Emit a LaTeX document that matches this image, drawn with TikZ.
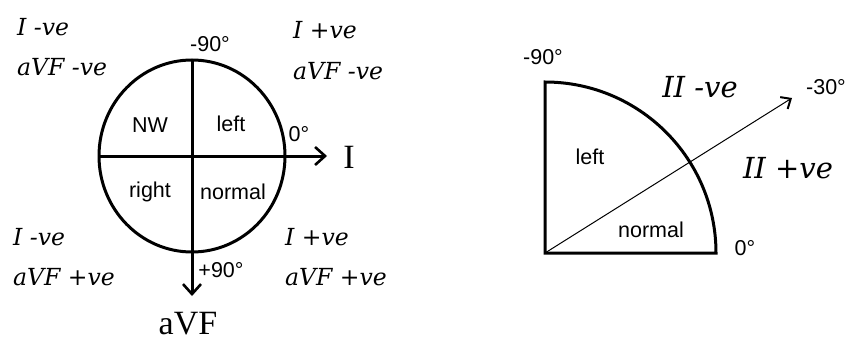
\documentclass[tikz,border=0pt]{standalone}
\usepackage{fontspec}
\setmainfont{Liberation Serif}
\setsansfont{Liberation Sans}
\newfontfamily\slabit{DejaVu Serif}
\usetikzlibrary{arrows.meta}
\begin{document}
\begin{tikzpicture}[x=1pt,y=-1pt,
  thick line/.style={line width=3pt},
  sans/.style={font=\sffamily\fontsize{21.5}{21.5}\selectfont, inner sep=0pt},
  ital/.style={font=\slabit\itshape\fontsize{23.5}{23.5}\selectfont, inner sep=0pt, anchor=west},
  bigital/.style={font=\slabit\itshape\fontsize{29}{29}\selectfont, inner sep=0pt},
  axis lbl/.style={font=\fontsize{34}{34}\selectfont, inner sep=0pt},
  barb/.style={-{Straight Barb[length=10pt,width=18pt,line width=2.6pt]}}]
\useasboundingbox (0,0) rectangle (848,345);
% left circle
\coordinate (c) at (192,156);
\draw[thick line] (c) ellipse [x radius=93, y radius=96];
\coordinate (w) at (99,156);
\coordinate (e) at (327,156);
\coordinate (n) at (192,60);
\coordinate (s) at (192,296);
\draw[thick line, barb] (w) -- (e);
\draw[thick line, barb] (n) -- (s);
\node[axis lbl] (lI) at (349,157) {I};
\node[axis lbl] (laVF) at (188,324) {aVF};
\node[sans] (m90) at (210,44) {-90°};
\node[sans] (z0) at (299,134) {0°};
\node[sans] (p90) at (221,270) {+90°};
\node[sans] (nw) at (150,125) {NW};
\node[sans] (left) at (231,124) {left};
\node[sans] (right) at (150,192) {right};
\node[sans] (normal) at (233,192) {normal};
\node[ital] (a1) at (17,27) {I -ve};
\node[ital] (a2) at (17,67) {aVF -ve};
\node[ital] (b1) at (293,30) {I +ve};
\node[ital] (b2) at (293,71) {aVF -ve};
\node[ital] (c1) at (13,237) {I -ve};
\node[ital] (c2) at (13,277) {aVF +ve};
\node[ital] (d1) at (285,237) {I +ve};
\node[ital] (d2) at (285,277) {aVF +ve};
% right quadrant
\coordinate (o) at (545,253);
\coordinate (top) at (545,82);
\coordinate (rt) at (716,253);
\draw[thick line, line join=miter] (rt) -- (o) -- (top) arc[start angle=90, end angle=0, x radius=171, y radius=-171] -- cycle;
\coordinate (tip) at (792,98);
\draw[line width=1pt, -{Straight Barb[length=8pt,width=14pt,line width=2pt]}] (o) -- (tip);
\node[sans] (q90) at (543,57) {-90°};
\node[sans] (q30) at (826,87) {-30°};
\node[sans] (q0) at (745,248) {0°};
\node[sans] (qleft) at (590,157) {left};
\node[sans] (qnormal) at (651,230) {normal};
\node[bigital] (ii1) at (700,87) {II -ve};
\node[bigital] (ii2) at (788,168) {II +ve};
\end{tikzpicture}
\end{document}
